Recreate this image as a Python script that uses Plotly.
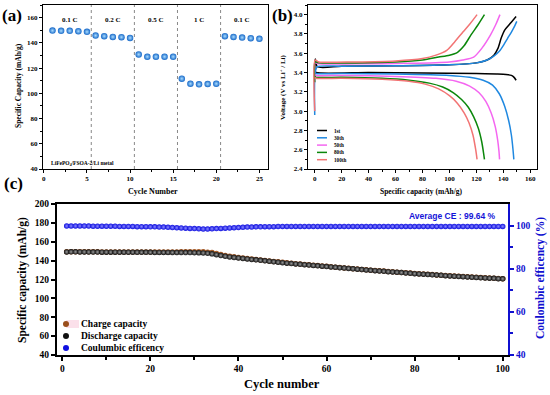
import plotly.graph_objects as go

W, H = 550, 395
SERIF = "Liberation Serif"
SANS = "Liberation Sans"

# ---------------- Panel (a): rate capability ----------------
rate_cycles = list(range(1, 26))
rate_capacity = [149.7, 149.5, 149.5, 149.2, 148.7,
                 145.8, 145.3, 144.7, 144.5, 143.9,
                 130.8, 129.0, 129.0, 129.0, 129.0,
                 111.6, 107.6, 107.1, 107.4, 107.6,
                 145.3, 144.7, 144.2, 143.7, 143.2]
rate_labels = ["0.1 C", "0.2 C", "0.5 C", "1 C", "0.1 C"]
rate_label_x = [3, 8, 13, 18, 23]
rate_boundaries = [5.5, 10.5, 15.5, 20.5]

# ---------------- Panel (b): charge/discharge profiles ----------------
profile_names = ["1st", "30th", "50th", "80th", "100th"]
profile_colors = ["#000000", "#1f88e0", "#f466f0", "#0b870b", "#f27474"]

chg_cap_1 = [0, 0.4, 2, 20, 60, 100, 120, 128, 133, 136, 138.5, 141, 144, 147, 149.5]
chg_v_1 = [3.38, 3.54, 3.46, 3.465, 3.47, 3.48, 3.50, 3.53, 3.58, 3.65, 3.76, 3.84, 3.89, 3.94, 3.98]
dis_cap_1 = [0, 1, 40, 80, 120, 135, 142, 146, 148, 149.5]
dis_v_1 = [3.42, 3.40, 3.40, 3.395, 3.39, 3.385, 3.38, 3.37, 3.35, 3.32]

chg_cap_30 = [0, 0.3, 2, 20, 60, 100, 120, 128, 133, 137, 140, 143, 146, 148, 150]
chg_v_30 = [2.96, 3.40, 3.46, 3.465, 3.47, 3.48, 3.50, 3.53, 3.57, 3.62, 3.68, 3.75, 3.82, 3.87, 3.93]
dis_cap_30 = [0, 1, 20, 60, 100, 115, 125, 132, 137, 141, 144, 146, 147.2, 147.8]
dis_v_30 = [3.40, 3.39, 3.39, 3.385, 3.37, 3.35, 3.32, 3.27, 3.18, 3.05, 2.90, 2.75, 2.60, 2.50]

chg_cap_50 = [0, 0.3, 3, 30, 70, 100, 110, 118, 124, 130.5, 134.5, 137.5]
chg_v_50 = [3.30, 3.50, 3.49, 3.49, 3.495, 3.51, 3.53, 3.56, 3.65, 3.79, 3.90, 4.00]
dis_cap_50 = [0, 1, 20, 60, 90, 105, 115, 122, 127, 131, 134, 135.8, 136.8, 137.2]
dis_v_50 = [3.38, 3.37, 3.37, 3.36, 3.34, 3.31, 3.26, 3.19, 3.10, 2.98, 2.84, 2.70, 2.58, 2.50]

chg_cap_80 = [0, 0.3, 3, 30, 60, 80, 92, 100, 106, 111, 116, 121, 126]
chg_v_80 = [3.30, 3.51, 3.50, 3.50, 3.51, 3.53, 3.56, 3.58, 3.61, 3.68, 3.79, 3.89, 4.00]
dis_cap_80 = [0, 1, 20, 50, 70, 85, 95, 103, 109, 114, 118, 121.5, 124, 125.5, 126]
dis_v_80 = [3.36, 3.35, 3.35, 3.34, 3.32, 3.29, 3.25, 3.19, 3.12, 3.04, 2.94, 2.82, 2.68, 2.55, 2.50]

chg_cap_100 = [0, 0.3, 3, 30, 60, 80, 90, 98, 104, 110, 115, 120.5]
chg_v_100 = [3.00, 3.53, 3.51, 3.51, 3.52, 3.545, 3.58, 3.63, 3.72, 3.82, 3.90, 4.00]
dis_cap_100 = [0, 1, 20, 50, 70, 82, 92, 100, 106, 111, 114.5, 117.5, 119.5, 120.5]
dis_v_100 = [3.35, 3.34, 3.34, 3.33, 3.31, 3.28, 3.23, 3.16, 3.08, 2.98, 2.88, 2.75, 2.60, 2.50]

charge_caps = [chg_cap_1, chg_cap_30, chg_cap_50, chg_cap_80, chg_cap_100]
charge_volts = [chg_v_1, chg_v_30, chg_v_50, chg_v_80, chg_v_100]
discharge_caps = [dis_cap_1, dis_cap_30, dis_cap_50, dis_cap_80, dis_cap_100]
discharge_volts = [dis_v_1, dis_v_30, dis_v_50, dis_v_80, dis_v_100]

# ---------------- Panel (c): long cycling ----------------
cycles = list(range(1, 101))
discharge_capacity = [
    149.2, 149.3, 149.3, 149.2, 149.2, 149.1, 149.1, 149.1, 149.0, 149.0,
    149.0, 149.0, 148.9, 148.9, 148.9, 148.9, 148.8, 148.8, 148.8, 148.8,
    148.7, 148.7, 148.7, 148.7, 148.6, 148.6, 148.6, 148.5, 148.5, 148.4,
    148.3, 148.1, 147.8, 147.2, 146.3, 145.4, 144.6, 143.9, 143.3, 142.8,
    142.3, 141.8, 141.3, 140.8, 140.3, 139.8, 139.3, 138.8, 138.3, 137.8,
    137.3, 136.9, 136.5, 136.1, 135.7, 135.3, 134.9, 134.5, 134.1, 133.7,
    133.3, 132.9, 132.5, 132.1, 131.7, 131.3, 130.9, 130.5, 130.1, 129.7,
    129.4, 129.0, 128.7, 128.3, 128.0, 127.6, 127.3, 126.9, 126.6, 126.2,
    125.9, 125.6, 125.3, 125.0, 124.7, 124.4, 124.1, 123.8, 123.5, 123.2,
    123.0, 122.7, 122.4, 122.2, 121.9, 121.7, 121.4, 121.2, 120.9, 120.7]
charge_capacity = [
    149.4, 149.5, 149.5, 149.4, 149.4, 149.3, 149.3, 149.3, 149.2, 149.2,
    149.2, 149.2, 149.1, 149.1, 149.1, 149.1, 149.1, 149.1, 149.1, 149.1,
    149.1, 149.1, 149.1, 149.1, 149.1, 149.2, 149.3, 149.3, 149.4, 149.4,
    149.4, 149.3, 149.0, 148.5, 147.5, 146.4, 145.5, 144.6, 144.0, 143.4,
    142.8, 142.3, 141.8, 141.2, 140.7, 140.2, 139.7, 139.2, 138.7, 138.2,
    137.7, 137.2, 136.8, 136.4, 136.0, 135.6, 135.2, 134.8, 134.4, 134.0,
    133.5, 133.1, 132.7, 132.3, 131.9, 131.5, 131.1, 130.7, 130.3, 129.9,
    129.6, 129.2, 128.9, 128.5, 128.2, 127.8, 127.5, 127.1, 126.8, 126.4,
    126.1, 125.8, 125.5, 125.2, 124.9, 124.6, 124.3, 124.0, 123.7, 123.4,
    123.2, 122.9, 122.6, 122.4, 122.1, 121.9, 121.6, 121.4, 121.1, 120.9]
coulombic_efficiency = [
    99.8, 99.8, 99.8, 99.8, 99.8, 99.8, 99.7, 99.7, 99.7, 99.7,
    99.7, 99.7, 99.6, 99.6, 99.6, 99.6, 99.5, 99.5, 99.5, 99.4,
    99.4, 99.3, 99.3, 99.2, 99.1, 99.0, 98.9, 98.8, 98.7, 98.6,
    98.5, 98.4, 98.4, 98.5, 98.6, 98.7, 98.8, 98.9, 99.0, 99.1,
    99.2, 99.3, 99.3, 99.4, 99.4, 99.5, 99.5, 99.5, 99.6, 99.6,
    99.6, 99.6, 99.6, 99.6, 99.6, 99.6, 99.6, 99.6, 99.6, 99.6,
    99.6, 99.6, 99.6, 99.6, 99.6, 99.6, 99.6, 99.6, 99.6, 99.6,
    99.6, 99.6, 99.6, 99.6, 99.6, 99.6, 99.6, 99.6, 99.6, 99.6,
    99.6, 99.6, 99.6, 99.6, 99.6, 99.6, 99.6, 99.6, 99.6, 99.6,
    99.6, 99.6, 99.6, 99.6, 99.6, 99.6, 99.6, 99.6, 99.6, 99.6]
legend_c_names = ["Charge capacity", "Discharge capacity", "Coulumbic efficency"]
legend_c_colors = ["#9a4e1c", "#111111", "#1010e0"]
legend_c_centers = ["#e8a060", "#9a9a9a", "#8a8aff"]

fig = go.Figure()

# (a) rate
fig.add_trace(go.Scatter(
    x=rate_cycles, y=rate_capacity, mode="markers", xaxis="x", yaxis="y",
    marker=dict(size=6.5, color="#1668c8", line=dict(width=0),
                gradient=dict(type="radial", color="#a9dcff")),
    showlegend=False))

# (b) profiles
for name, col, cc, cv, dc, dv in zip(profile_names, profile_colors, charge_caps,
                                     charge_volts, discharge_caps, discharge_volts):
    for xs, ys in ((cc, cv), (dc, dv)):
        fig.add_trace(go.Scatter(
            x=xs, y=ys, mode="lines", xaxis="x2", yaxis="y2",
            line=dict(color=col, width=1.5, shape="spline", smoothing=0.7),
            showlegend=False, name=name))

# (c) cycling
fig.add_trace(go.Scatter(
    x=cycles, y=charge_capacity, mode="markers", xaxis="x3", yaxis="y3",
    marker=dict(size=5.5, color=legend_c_colors[0], line=dict(width=0),
                gradient=dict(type="radial", color=legend_c_centers[0])),
    showlegend=False))
fig.add_trace(go.Scatter(
    x=cycles, y=discharge_capacity, mode="markers", xaxis="x3", yaxis="y3",
    marker=dict(size=5.5, color=legend_c_colors[1], line=dict(width=0),
                gradient=dict(type="radial", color=legend_c_centers[1])),
    showlegend=False))
fig.add_trace(go.Scatter(
    x=cycles, y=coulombic_efficiency, mode="markers", xaxis="x3", yaxis="y4",
    marker=dict(size=5.5, color=legend_c_colors[2], line=dict(width=0),
                gradient=dict(type="radial", color=legend_c_centers[2])),
    showlegend=False))

def px_x(p):
    return p / W

def px_y(p):
    return 1 - p / H

tickf_small = dict(family=SERIF, size=7, color="black", weight="bold")
tickf_c = dict(family=SERIF, size=9.5, color="black", weight="bold")

common_small = dict(showline=True, linecolor="black", linewidth=1, mirror=True,
                    ticks="outside", ticklen=3, tickwidth=1, tickcolor="black",
                    showgrid=False, zeroline=False, tickfont=tickf_small, automargin=False)

fig.update_layout(
    width=W, height=H, margin=dict(l=0, r=0, t=0, b=0, autoexpand=False),
    paper_bgcolor="white", plot_bgcolor="white", showlegend=False,
    xaxis=dict(domain=[px_x(43), px_x(268)], anchor="y", range=[-0.1, 26],
               tickvals=[0, 5, 10, 15, 20, 25],
               minor=dict(dtick=2.5, ticks="outside", ticklen=2, tickcolor="black"),
               **common_small),
    yaxis=dict(domain=[px_y(169), px_y(5)], anchor="x", range=[40, 170],
               tickvals=[40, 60, 80, 100, 120, 140, 160],
               minor=dict(dtick=10, ticks="outside", ticklen=2, tickcolor="black"),
               **common_small),
    xaxis2=dict(domain=[px_x(308), px_x(537)], anchor="y2", range=[-5, 165],
                tickvals=[0, 20, 40, 60, 80, 100, 120, 140, 160],
                minor=dict(dtick=10, ticks="outside", ticklen=2, tickcolor="black"),
                **common_small),
    yaxis2=dict(domain=[px_y(169), px_y(5)], anchor="x2", range=[2.4, 4.1],
                tickvals=[2.4, 2.6, 2.8, 3.0, 3.2, 3.4, 3.6, 3.8, 4.0],
                ticktext=["2.4", "2.6", "2.8", "3.0", "3.2", "3.4", "3.6", "3.8", "4.0"],
                minor=dict(dtick=0.1, ticks="outside", ticklen=2, tickcolor="black"),
                **common_small),
    xaxis3=dict(domain=[px_x(57), px_x(508)], anchor="y3", range=[-1.2, 101.2],
                tickvals=[0, 20, 40, 60, 80, 100],
                minor=dict(dtick=10, ticks="outside", ticklen=3, tickcolor="black"),
                showline=True, linecolor="black", linewidth=2, mirror=True,
                ticks="outside", ticklen=4, tickwidth=1.5, tickcolor="black",
                showgrid=False, zeroline=False, tickfont=tickf_c, automargin=False),
    yaxis3=dict(domain=[px_y(355), px_y(204)], anchor="x3", range=[40, 200],
                tickvals=[40, 60, 80, 100, 120, 140, 160, 180, 200],
                showline=True, linecolor="black", linewidth=2, mirror=False,
                ticks="outside", ticklen=4, tickwidth=1.5, tickcolor="black",
                showgrid=False, zeroline=False, tickfont=tickf_c, automargin=False),
    yaxis4=dict(overlaying="y3", anchor="x3", side="right", range=[40, 110],
                tickvals=[40, 60, 80, 100],
                minor=dict(tickvals=[50, 70, 90], ticks="outside", ticklen=3, tickcolor="#1010d0"),
                showline=True, linecolor="#1010d0", linewidth=2,
                ticks="outside", ticklen=4, tickwidth=1.5, tickcolor="#1010d0",
                showgrid=False, zeroline=False, automargin=False,
                tickfont=dict(family=SERIF, size=9.5, color="#1010d0", weight="bold")),
)

# rate boundaries (dotted)
for b in rate_boundaries:
    fig.add_shape(type="line", xref="x", yref="y domain", x0=b, x1=b, y0=0, y1=1,
                  line=dict(color="#888888", width=1, dash="dot"))

ann = []

def note(text, x, y, size, angle=0, color="black", family=SERIF, xanchor="center"):
    ann.append(dict(x=px_x(x), y=px_y(y), xref="paper", yref="paper", text=text,
                    textangle=angle, showarrow=False, xanchor=xanchor, yanchor="middle",
                    font=dict(family=family, size=size, color=color, weight="bold")))

for lab, lx in zip(rate_labels, rate_label_x):
    ann.append(dict(x=lx, y=158.5, xref="x", yref="y", text=lab, showarrow=False,
                    xanchor="center", yanchor="middle",
                    font=dict(family=SERIF, size=7, color="black", weight="bold")))
ann.append(dict(x=0.6, y=44.5, xref="x", yref="y", xanchor="left", yanchor="middle",
                text="LiFePO<sub>4</sub>/FSOA-2/Li metal", showarrow=False,
                font=dict(family=SERIF, size=5.5, color="black", weight="bold")))

# panel labels
note("(a)", 12, 16, 17)
note("(b)", 282, 16, 17)
note("(c)", 13, 183, 17)

# axis titles
note("Specific Capacity (mAh/g)", 18, 86, 7.5, -90)
note("Cycle Number", 153, 192, 8)
note("Voltage (V vs Li<sup>+</sup> / Li)", 282, 87, 7, -90)
note("Specific capacity (mAh/g)", 422, 191, 7.5)
note("Specific capacity (mAh/g)", 22, 280, 11.5, -90)
note("Cycle number", 282, 384, 12.5)
note("Coulombic efficency (%)", 540, 278, 11.5, -90, color="#1010d0")
note("Average CE : 99.64 %", 452, 216, 8.5, color="#1414d8", family=SANS)

# panel (b) legend
leg_y = [130.5, 137.8, 145.1, 152.4, 159.7]
for name, col, ly in zip(profile_names, profile_colors, leg_y):
    fig.add_shape(type="line", xref="paper", yref="paper",
                  x0=px_x(317), x1=px_x(327), y0=px_y(ly), y1=px_y(ly),
                  line=dict(color=col, width=1.5))
    note(name, 332, ly, 5.2, xanchor="left")

# panel (c) legend
leg_c_y = [324, 336, 348]
fig.add_shape(type="rect", xref="paper", yref="paper",
              x0=px_x(66), x1=px_x(79), y0=px_y(328), y1=px_y(320),
              line=dict(width=0), fillcolor="#fbe0ea", layer="below")
for name, col, ly in zip(legend_c_names, legend_c_colors, leg_c_y):
    fig.add_shape(type="circle", xref="paper", yref="paper",
                  xsizemode="pixel", ysizemode="pixel",
                  xanchor=px_x(66), yanchor=px_y(ly), x0=-3, x1=3, y0=-3, y1=3,
                  fillcolor=col, line=dict(width=0))
    note(name, 79, ly, 9.5, xanchor="left")

fig.update_layout(annotations=ann)
fig.write_html("out.html", config={"displayModeBar": False},
               post_script="document.body.style.margin='0';")
